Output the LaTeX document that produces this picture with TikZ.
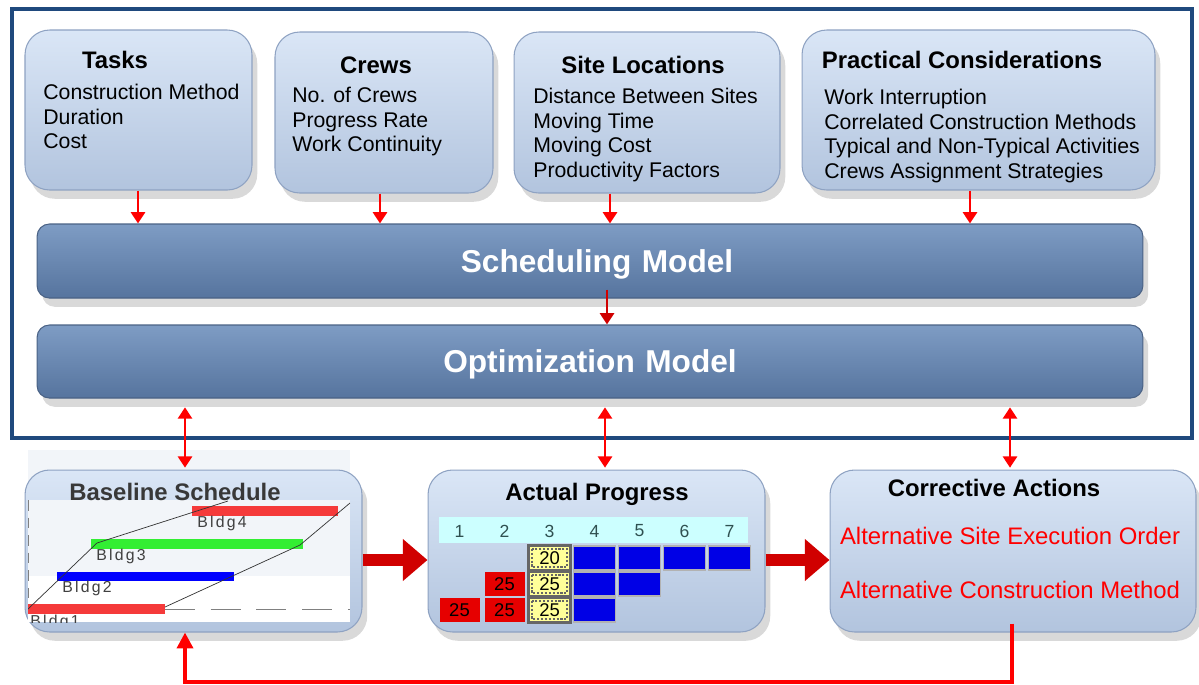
\documentclass[tikz,border=0pt]{standalone}
\usepackage{fontspec}
\setmainfont{Liberation Sans}
\usetikzlibrary{arrows.meta,shadows}

\definecolor{framebl}{HTML}{1F497D}
\definecolor{boxtop}{HTML}{DAE6F6}
\definecolor{boxbot}{HTML}{B2C4DE}
\definecolor{boxline}{HTML}{8EA2C2}
\definecolor{bartop}{HTML}{7E9CC4}
\definecolor{barbot}{HTML}{56749E}
\definecolor{barline}{HTML}{4A6285}
\definecolor{arrred}{HTML}{FF0000}
\definecolor{darkred}{HTML}{D00000}
\definecolor{hdrcyan}{HTML}{CCFFFF}
\definecolor{cellblue}{HTML}{0000E6}
\definecolor{cellred}{HTML}{E60000}
\definecolor{cellyel}{HTML}{FFFF99}
\definecolor{panel}{HTML}{F2F5F9}
\definecolor{bldgred}{HTML}{F53A3A}
\definecolor{bldggreen}{HTML}{33EE33}
\definecolor{bldgblue}{HTML}{0000FF}
\definecolor{hdrtext}{HTML}{2F5050}

\begin{document}
\begin{tikzpicture}[x=0.02cm, y=-0.02cm,
  inbox/.style={rounded corners=14pt, top color=boxtop, bottom color=boxbot, draw=boxline, line width=0.6pt,
    drop shadow={shadow xshift=3pt, shadow yshift=-5pt, opacity=0.3}},
  modelbar/.style={rounded corners=7pt, top color=bartop, bottom color=barbot, draw=barline, line width=0.6pt,
    inner xsep=0pt, text width=22.12cm, align=center, text depth=0pt,
    text=white, font=\bfseries\fontsize{18}{21}\selectfont,
    drop shadow={shadow xshift=3pt, shadow yshift=-5pt, opacity=0.3}},
  boxtitle/.style={font=\bfseries\fontsize{13.6}{16}\selectfont, inner sep=0pt},
  items/.style={font=\fontsize{12.1}{13.9}\selectfont, align=left, anchor=north west, inner sep=0pt},
  redtext/.style={font=\fontsize{13.6}{16}\selectfont, text=arrred, inner sep=0pt},
  arr/.style={-{Triangle[length=6.5pt,width=8pt]}, line width=1.6pt, arrred},
  dblarr/.style={{Triangle[length=6.5pt,width=8pt]}-{Triangle[length=6.5pt,width=8pt]}, line width=1.6pt, arrred},
  bigarr/.style={-{Triangle[length=14pt,width=23pt]}, line width=6.5pt, darkred},
  fbarr/.style={-{Triangle[length=9pt,width=9pt]}, line width=2.2pt, arrred},
  hdrnum/.style={font=\fontsize{10}{12}\selectfont, text=hdrtext, inner sep=0pt},
  cblue/.style={fill=cellblue, draw=gray!60, line width=0.8pt, minimum width=0.84cm, minimum height=0.48cm, inner sep=0pt},
  cred/.style={fill=cellred, minimum width=0.8cm, minimum height=0.48cm, inner sep=0pt, font=\fontsize{10.5}{12}\selectfont},
  cyel/.style={fill=cellyel, draw=black!60, line width=1.2pt, minimum width=0.84cm, minimum height=0.5cm, inner sep=0pt,
    font=\fontsize{10.5}{12}\selectfont,
    path picture={\draw[densely dotted, black!60] ([shift={(2pt,-2pt)}]path picture bounding box.north west)
      rectangle ([shift={(-2pt,2pt)}]path picture bounding box.south east);}},
  bldg/.style={font=\fontsize{9}{10}\selectfont\addfontfeature{LetterSpace=14}, text=black!75, inner sep=0pt, anchor=west},
]
\useasboundingbox (0,0) rectangle (1199,684);

% outer frame
\draw[line width=2.8pt, framebl] (12,9) rectangle (1192,438);

% inputs
\node[inbox, minimum width=4.54cm, minimum height=3.2cm] (tasks) at (138.5,110) {};
\node[inbox, minimum width=4.36cm, minimum height=3.22cm] (crews) at (384,112.5) {};
\node[inbox, minimum width=5.32cm, minimum height=3.22cm] (site) at (647,112.5) {};
\node[inbox, minimum width=7.06cm, minimum height=3.2cm] (pract) at (978.5,110) {};

\node[boxtitle] (taskst) at (115,60) {Tasks};
\node[items] (tasksi) at (43,84) {Construction Method\\Duration\\Cost};
\node[boxtitle] (crewst) at (376,65) {Crews};
\node[items] (crewsi) at (292,87) {No. of Crews\\Progress Rate\\Work Continuity};
\node[boxtitle] (sitet) at (643,65) {Site Locations};
\node[items] (sitei) at (533,88) {Distance Between Sites\\Moving Time\\Moving Cost\\Productivity Factors};
\node[boxtitle] (practt) at (962,60) {Practical Considerations};
\node[items] (practi) at (824,89) {Work Interruption\\Correlated Construction Methods\\Typical and Non-Typical Activities\\Crews Assignment Strategies};

% models
\node[modelbar, minimum height=1.48cm] (sched) at (590,261) {\hspace*{8pt}Scheduling Model};
\node[modelbar, minimum height=1.46cm] (optim) at (590,361.5) {Optimization Model};

\draw[arr] (138,0 |- tasks.south) -- (138,0 |- sched.north);
\draw[arr] (380,0 |- crews.south) -- (380,0 |- sched.north);
\draw[arr] (610,0 |- site.south) -- (610,0 |- sched.north);
\draw[arr] (970,0 |- pract.south) -- (970,0 |- sched.north);
\draw[arr, darkred, shorten <=-5pt] (607,0 |- sched.south) -- (607,0 |- optim.north);

% monitoring
\fill[panel] (28,450) rectangle (350,500);
\node[inbox, minimum width=6.74cm, minimum height=3.24cm] (base) at (193.5,551) {};
\node[inbox, minimum width=6.74cm, minimum height=3.24cm] (actual) at (596.5,551) {};
\node[inbox, minimum width=7.32cm, minimum height=3.24cm] (corr) at (1013,551) {};

% baseline chart
\begin{scope}
  \clip (28,500) rectangle (350,622);
  \fill[white] (28,500) rectangle (350,622);
  \fill[panel] (28,500) rectangle (350,576);
  \draw[gray, dash pattern=on 17pt off 9pt] (28,609) -- (350,609);
  \draw[gray, dash pattern=on 6pt off 4pt] (28,500) -- (28,609);
  \fill[bldgred] (192,506) rectangle (338,516);
  \fill[bldggreen] (91,539) rectangle (303,549);
  \fill[bldgblue] (57,572) rectangle (234,581);
  \fill[bldgred] (28,604) rectangle (165,614);
  \draw[black!80, line width=0.4pt] (28,609) -- (97,543) -- (228,501);
  \draw[black!80, line width=0.4pt] (165,607) -- (300,545) -- (350,503);
  \node[bldg] (b4) at (197,523) {Bldg4};
  \node[bldg] (b3) at (96,556) {Bldg3};
  \node[bldg] (b2) at (62,588) {Bldg2};
  \node[bldg] (b1) at (30,622) {Bldg1};
\end{scope}
\node[boxtitle, text=black!78] (baset) at (175,492) {Baseline Schedule};

% actual progress table
\node[boxtitle] (actualt) at (597,494) {Actual Progress};
\fill[hdrcyan] (439,517) rectangle (748,543);
\foreach \c in {1,...,7}
  \node[hdrnum] (h\c) at ({459.5+45*(\c-1)},531) {\c};
\foreach \c in {4,...,7}
  \node[cblue] (ra\c) at ({459.5+45*(\c-1)},558) {};
\foreach \c in {4,5}
  \node[cblue] (rb\c) at ({459.5+45*(\c-1)},584) {};
\node[cblue] (rc4) at (594.5,610) {};
\node[cyel] (ra3) at (549.5,558) {20};
\node[cyel] (rb3) at (549.5,584) {25};
\node[cyel] (rc3) at (549.5,610) {25};
\node[cred] (rb2) at (504.5,584) {25};
\node[cred] (rc2) at (504.5,610) {25};
\node[cred] (rc1) at (459.5,610) {25};

% corrective actions
\node[boxtitle] (corrt) at (994,488) {Corrective Actions};
\node[redtext] (alt1) at (1010,536) {Alternative Site Execution Order};
\node[redtext] (alt2) at (1010,590) {Alternative Construction Method};

% links
\draw[dblarr, shorten <=5pt, shorten >=1pt] (185,0 |- optim.south) -- (185,0 |- base.north);
\draw[dblarr, shorten <=5pt, shorten >=1pt] (605,0 |- optim.south) -- (605,0 |- actual.north);
\draw[dblarr, shorten <=5pt, shorten >=1pt] (1010,0 |- optim.south) -- (1010,0 |- corr.north);
\draw[bigarr] (0,560 -| base.east) -- (0,560 -| actual.west);
\draw[bigarr] (0,560 -| actual.east) -- (0,560 -| corr.west);
\draw[fbarr, shorten <=-5pt] (1012,0 |- corr.south) |- (185,682) -- (185,0 |- base.south);
\end{tikzpicture}
\end{document}
